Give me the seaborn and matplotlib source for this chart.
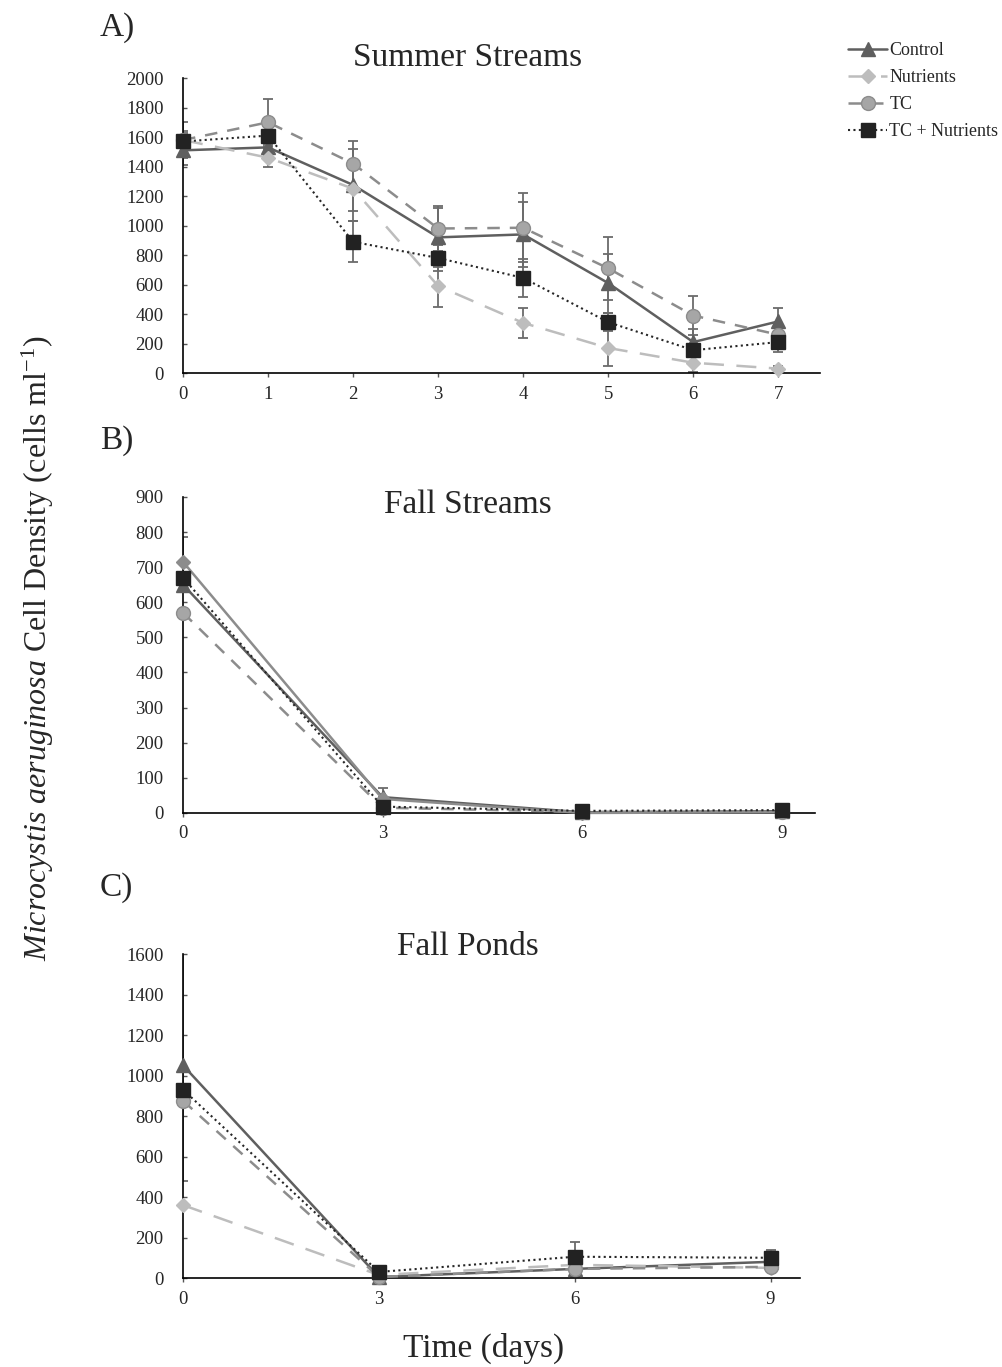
import numpy as np
import pandas as pd
import matplotlib
matplotlib.use('Agg')
import matplotlib.pyplot as plt
import seaborn as sns

# ---- data ----
treatments = ['Control', 'Nutrients', 'TC', 'TC + Nutrients']

# A) Summer streams, days 0-7
days_a = [0, 1, 2, 3, 4, 5, 6, 7]
summer_control = [1510, 1530, 1275, 920, 940, 610, 210, 350]
summer_nutrients = [1580, 1460, 1250, 590, 340, 170, 70, 30]
summer_tc = [1580, 1700, 1420, 980, 985, 710, 390, 260]
summer_tcn = [1570, 1610, 890, 780, 645, 345, 155, 210]
summer_control_err = [100, 60, 245, 200, 220, 200, 90, 90]
summer_nutrients_err = [60, 60, 150, 140, 100, 120, 60, 20]
summer_tc_err = [120, 160, 150, 155, 235, 215, 130, 60]
summer_tcn_err = [60, 60, 140, 90, 130, 60, 40, 70]

# B) Fall streams, days 0-9
days_b = [0, 3, 6, 9]
fall_s_control = [650, 45, 2, 5]
fall_s_nutrients = [715, 40, 0, 2]
fall_s_tc = [570, 15, 3, 4]
fall_s_tcn = [670, 18, 6, 8]
fall_s_control_err = [0, 25, 2, 2]
fall_s_nutrients_err = [70, 5, 1, 1]
fall_s_tc_err = [0, 5, 1, 1]
fall_s_tcn_err = [0, 5, 2, 2]

# C) Fall ponds, days 0-9
days_c = [0, 3, 6, 9]
fall_p_control = [1050, 5, 45, 80]
fall_p_nutrients = [360, 15, 65, 50]
fall_p_tc = [875, 5, 45, 55]
fall_p_tcn = [930, 30, 105, 100]
fall_p_control_err = [570, 5, 40, 20]
fall_p_nutrients_err = [0, 5, 10, 10]
fall_p_tc_err = [0, 5, 10, 10]
fall_p_tcn_err = [0, 10, 75, 38]

yticks_a = np.arange(0, 2001, 200)
yticks_b = np.arange(0, 901, 100)
yticks_c = np.arange(0, 1601, 200)

# ---- styles ----
styles = {
    'Control': dict(color='#5f5f5f', ls='-', marker='^', mfc='#5f5f5f', mec='#5f5f5f', ms=10, lw=1.8),
    'Nutrients': dict(color='#bdbdbd', ls=(0, (8, 5)), marker='D', mfc='#bdbdbd', mec='#bdbdbd', ms=7.5, lw=1.8),
    'TC': dict(color='#8c8c8c', ls=(0, (5, 4)), marker='o', mfc='#a6a6a6', mec='#8c8c8c', ms=10, lw=1.8),
    'TC + Nutrients': dict(color='#262626', ls=(0, (1, 1.6)), marker='s', mfc='#222222', mec='#222222', ms=10, lw=1.5),
}

sns.set_theme(style='white')
plt.rcParams['font.family'] = ['Liberation Serif', 'DejaVu Serif']
plt.rcParams['mathtext.fontset'] = 'custom'
plt.rcParams['mathtext.rm'] = 'Liberation Serif'
plt.rcParams['mathtext.it'] = 'Liberation Serif:italic'


def draw_panel(ax, days, series, errs, xlim, ylim, yticks, xticks, override=None):
    for name in treatments:
        st = dict(styles[name])
        if override and name in override:
            st.update(override[name])
        df = pd.DataFrame({'day': days, 'value': series[name]})
        ax.errorbar(days, series[name], yerr=errs[name], fmt='none',
                    ecolor='#6b6b6b', elinewidth=1.3, capsize=3.5, capthick=1.3, zorder=1)
        sns.lineplot(ax=ax, data=df, x='day', y='value', color=st['color'],
                     linestyle=st['ls'], linewidth=st['lw'], marker=st['marker'],
                     markersize=st['ms'], markerfacecolor=st['mfc'],
                     markeredgecolor=st['mec'], markeredgewidth=1, label=name,
                     legend=False, zorder=3, clip_on=False)
    ax.set_xlim(*xlim)
    ax.set_ylim(*ylim)
    ax.set_yticks(yticks)
    ax.set_xticks(xticks)
    ax.set_xlabel('')
    ax.set_ylabel('')
    for side in ['top', 'right']:
        ax.spines[side].set_visible(False)
    for side in ['left', 'bottom']:
        ax.spines[side].set_color('black')
        ax.spines[side].set_linewidth(1.2)
    ax.tick_params(axis='y', direction='in', length=3, width=1, color='#555555',
                   labelsize=13.5, pad=14, left=True)
    ax.tick_params(axis='x', direction='out', length=3, width=1, color='#555555',
                   labelsize=13.5, pad=6, bottom=True)
    ax.grid(False)


fig = plt.figure(figsize=(10.03, 13.67), dpi=100)

ax_a = fig.add_axes([0.1825, 0.7271, 0.635, 0.2158])
draw_panel(ax_a, days_a,
           {'Control': summer_control, 'Nutrients': summer_nutrients,
            'TC': summer_tc, 'TC + Nutrients': summer_tcn},
           {'Control': summer_control_err, 'Nutrients': summer_nutrients_err,
            'TC': summer_tc_err, 'TC + Nutrients': summer_tcn_err},
           (0, 7.49), (0, 2000), yticks_a, days_a)

ax_b = fig.add_axes([0.1825, 0.4053, 0.630, 0.2312])
draw_panel(ax_b, days_b,
           {'Control': fall_s_control, 'Nutrients': fall_s_nutrients,
            'TC': fall_s_tc, 'TC + Nutrients': fall_s_tcn},
           {'Control': fall_s_control_err, 'Nutrients': fall_s_nutrients_err,
            'TC': fall_s_tc_err, 'TC + Nutrients': fall_s_tcn_err},
           (0, 9.5), (0, 900), yticks_b, days_b,
           override={'Nutrients': dict(color='#8c8c8c', ls='-', mfc='#8c8c8c', mec='#8c8c8c')})

ax_c = fig.add_axes([0.1825, 0.0651, 0.615, 0.2370])
draw_panel(ax_c, days_c,
           {'Control': fall_p_control, 'Nutrients': fall_p_nutrients,
            'TC': fall_p_tc, 'TC + Nutrients': fall_p_tcn},
           {'Control': fall_p_control_err, 'Nutrients': fall_p_nutrients_err,
            'TC': fall_p_tc_err, 'TC + Nutrients': fall_p_tcn_err},
           (0, 9.45), (0, 1600), yticks_c, days_c)

# titles and panel letters
fig.text(0.4666, 0.9576, 'Summer Streams', ha='center', va='center', fontsize=24)
fig.text(0.4666, 0.6306, 'Fall Streams', ha='center', va='center', fontsize=24)
fig.text(0.4666, 0.3073, 'Fall Ponds', ha='center', va='center', fontsize=24)
fig.text(0.0997, 0.9795, 'A)', ha='left', va='center', fontsize=24)
fig.text(0.0997, 0.6774, 'B)', ha='left', va='center', fontsize=24)
fig.text(0.0997, 0.3504, 'C)', ha='left', va='center', fontsize=24)

fig.text(0.0379, 0.5255,
         r'$\it{Microcystis\ aeruginosa}$ Cell Density (cells ml$^{-1}$)',
         rotation=90, ha='center', va='center', fontsize=23)
fig.text(0.4826, 0.0139, 'Time (days)', ha='center', va='center', fontsize=24)

# legend (shared)
handles, labels = ax_a.get_legend_handles_labels()
fig.legend(handles, labels, loc='upper left', bbox_to_anchor=(0.838, 0.9745),
           frameon=False, fontsize=13, handlelength=2.2, handletextpad=0.1,
           labelspacing=0.55, borderaxespad=0)

fig.savefig('out.png', dpi=100)
